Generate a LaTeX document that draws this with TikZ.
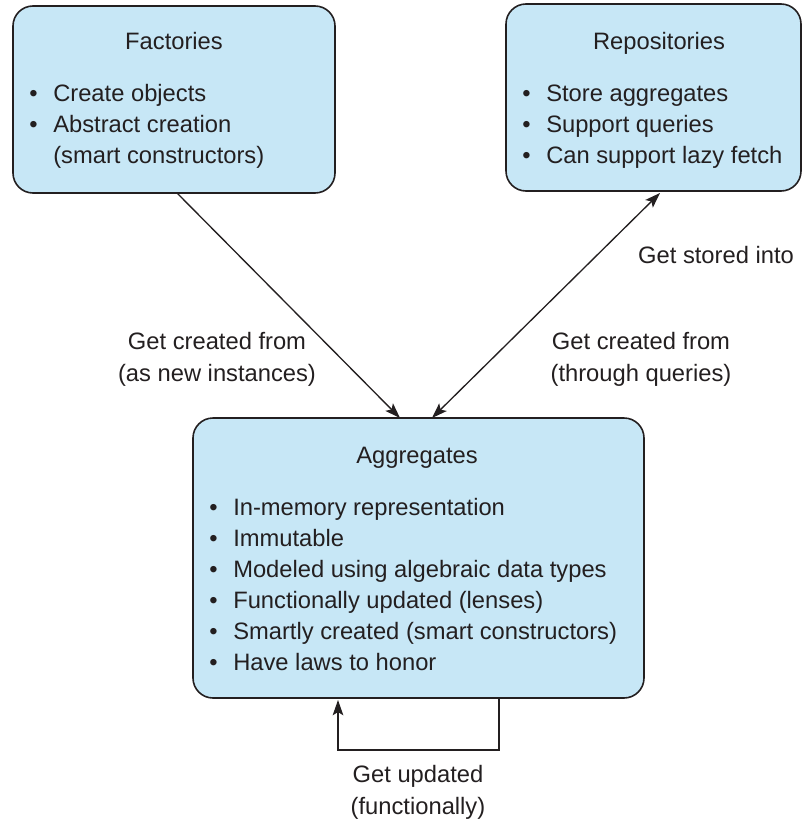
\documentclass[tikz,border=0pt]{standalone}
\usepackage{fontspec}
\setmainfont{Liberation Sans}
\usetikzlibrary{arrows.meta,calc}
\definecolor{boxfill}{RGB}{199,231,246}
\definecolor{ink}{RGB}{35,31,32}
\newcommand\mybul{\makebox[18pt][l]{•}}
\begin{document}
\begin{tikzpicture}[x=0.75pt,y=-0.75pt,
  every node/.style={text=ink},
  font=\fontsize{17.8}{23.25}\selectfont,
  box/.style={draw=ink, line width=1.2pt, fill=boxfill, rounded corners=15pt, inner sep=0pt, outer sep=0pt},
  title/.style={anchor=base, inner sep=0pt},
  list/.style={anchor=base west, inner sep=0pt},
  lbl/.style={align=center, inner sep=0pt, font=\fontsize{17.8}{24}\selectfont},
  arr/.style={draw=ink, line width=1pt, -{Stealth[length=11.5pt,width=8pt,inset=2.5pt]}},
  arr2/.style={draw=ink, line width=1pt, {Stealth[length=11.5pt,width=8pt,inset=2.5pt]}-{Stealth[length=11.5pt,width=8pt,inset=2.5pt]}}
]
\useasboundingbox (0,0) rectangle (802,821);

% boxes
\node[box, minimum width=241.5pt, minimum height=140.25pt] (fac) at (174,99.5) {};
\node[box, minimum width=221.25pt, minimum height=140.25pt] (repo) at (653.5,97.5) {};
\node[box, minimum width=338.25pt, minimum height=210pt] (agg) at (418.5,558) {};

% titles
\node[title] (factitle) at (174,49) {Factories};
\node[title] (repotitle) at (659,49) {Repositories};
\node[title] (aggtitle) at (417,463) {Aggregates};

% lists
\node[list] (faclist) at (29,101) {\begin{tabular}[t]{@{}l@{}l@{}}
\mybul & Create objects\\
\mybul & Abstract creation\\
 & (smart constructors)
\end{tabular}};
\node[list] (repolist) at (522,101) {\begin{tabular}[t]{@{}l@{}l@{}}
\mybul & Store aggregates\\
\mybul & Support queries\\
\mybul & Can support lazy fetch
\end{tabular}};
\node[list] (agglist) at (209,515) {\begin{tabular}[t]{@{}l@{}l@{}}
\mybul & In-memory representation\\
\mybul & Immutable\\
\mybul & Modeled using algebraic data types\\
\mybul & Functionally updated (lenses)\\
\mybul & Smartly created (smart constructors)\\
\mybul & Have laws to honor
\end{tabular}};

% connectors
\draw[arr] ($(fac.south)+(3,0)$) -- ($(agg.north)+(-18.5,0)$);
\draw[arr2] ($(repo.south)+(6.5,2)$) -- ($(agg.north)+(13.5,0)$);
\draw[arr] ($(agg.south)+(80.5,0)$) -- ++(0,52) -| ($(agg.south)+(-80.5,2)$);

% labels
\node[lbl] (l1) at (217,359) {Get created from\\(as new instances)};
\node[lbl] (l2) at (641,359) {Get created from\\(through queries)};
\node[lbl] (l3) at (716,255) {Get stored into};
\node[lbl] (l4) at (418,792) {Get updated\\(functionally)};
\end{tikzpicture}
\end{document}
